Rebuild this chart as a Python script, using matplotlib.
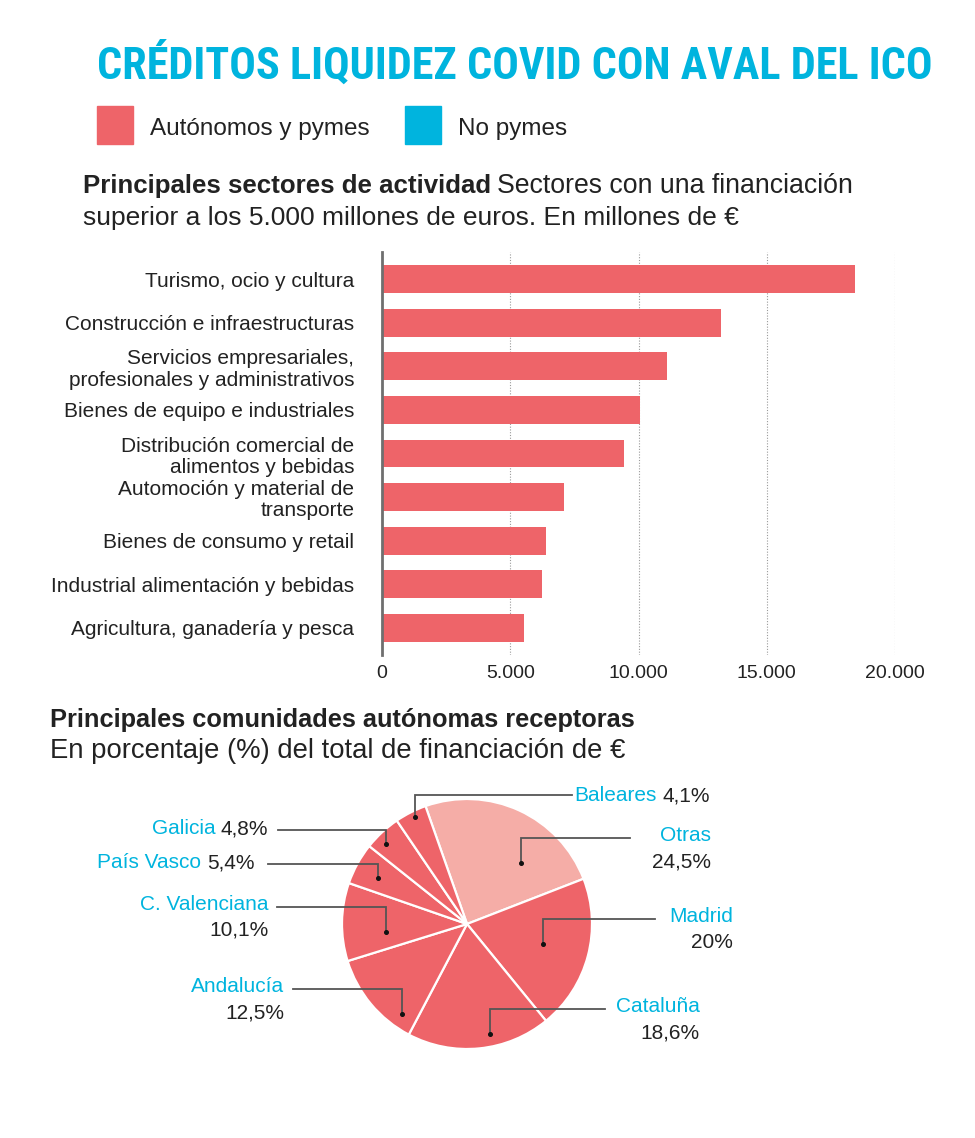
import numpy as np
import matplotlib
matplotlib.use('Agg')
import matplotlib.pyplot as plt

# Datos
sectores = ['Turismo, ocio y cultura',
            'Construcción e infraestructuras',
            'Servicios empresariales,\nprofesionales y administrativos',
            'Bienes de equipo e industriales',
            'Distribución comercial de\nalimentos y bebidas',
            'Automoción y material de\ntransporte',
            'Bienes de consumo y retail',
            'Industrial alimentación y bebidas',
            'Agricultura, ganadería y pesca']
importes = [18450, 13200, 11100, 10070, 9430, 7080, 6410, 6240, 5540]
ticks_x = [0, 5000, 10000, 15000, 20000]
ticks_txt = ['0', '5.000', '10.000', '15.000', '20.000']

comunidades = ['Otras', 'Madrid', 'Cataluña', 'Andalucía', 'C. Valenciana',
               'País Vasco', 'Galicia', 'Baleares']
porcentajes = [24.5, 20, 18.6, 12.5, 10.1, 5.4, 4.8, 4.1]

# Colores
ROJO = '#EE6469'
ROSA = '#F5ADA7'
CIAN = '#00B4DE'
TEXTO = '#222222'

plt.rcParams['font.family'] = ['Liberation Sans', 'DejaVu Sans']

W, H = 975, 1138
fig = plt.figure(figsize=(W / 100, H / 100), dpi=100)
renderer = fig.canvas.get_renderer()


def px(x, y):
    # pixeles -> fraccion de figura
    return x / W, 1 - y / H


# Titulo (ajustado al ancho 97..932 px)
titulo = fig.text(*px(97, 79), 'CRÉDITOS LIQUIDEZ COVID CON AVAL DEL ICO',
                  color=CIAN, fontsize=29, fontweight='bold',
                  family=['Roboto Condensed', 'Liberation Sans Narrow', 'Roboto', 'DejaVu Sans'],
                  ha='left', va='baseline')
ancho = titulo.get_window_extent(renderer).width
titulo.set_fontsize(29 * 835 / ancho)

# Leyenda
for x0, col, txt in [(97, ROJO, 'Autónomos y pymes'), (405, CIAN, 'No pymes')]:
    fig.patches.append(plt.Rectangle(px(x0, 144), 36 / W, 38 / H, color=col,
                                     transform=fig.transFigure, figure=fig))
    fig.text(*px(x0 + 53, 135), txt, color=TEXTO, fontsize=17.5, va='baseline')

# Subtitulo barras
t1 = fig.text(*px(83, 193), 'Principales sectores de actividad', fontsize=18.6,
              fontweight='bold', color=TEXTO, va='baseline')
bb = t1.get_window_extent(renderer)
fig.text(bb.x1 / W + 6 / W, 1 - 193 / H, 'Sectores con una financiación',
         fontsize=19.2, color=TEXTO, va='baseline')
fig.text(*px(83, 225), 'superior a los 5.000 millones de euros. En millones de €',
         fontsize=19.0, color=TEXTO, va='baseline')

# Grafico de barras
ax = fig.add_axes([382 / W, 1 - 655 / H, 513 / W, 403 / H])
y = np.arange(len(sectores))
ax.barh(y, importes, height=0.64, color=ROJO, zorder=3)
ax.set_ylim(len(sectores) - 1 + 0.62, -0.62)
ax.set_xlim(0, 20000)
ax.set_xticks(ticks_x)
ax.set_xticklabels(ticks_txt, fontsize=14, color=TEXTO)
ax.set_yticks(y)
ax.set_yticklabels(sectores, fontsize=15, color=TEXTO, linespacing=1.15)
ax.tick_params(axis='both', length=0)
ax.tick_params(axis='y', pad=20)
ax.tick_params(axis='x', pad=7)
for s in ['top', 'right', 'bottom']:
    ax.spines[s].set_visible(False)
ax.spines['left'].set_color('#6f6f6f')
ax.spines['left'].set_linewidth(2)
ax.spines['left'].set_zorder(4)
for xv in ticks_x[1:]:
    ax.axvline(xv, color='#9a9a9a', lw=0.8, ls=(0, (1, 1.5)), zorder=1)

# Subtitulo tarta
fig.text(*px(50, 727), 'Principales comunidades autónomas receptoras', fontsize=18.3,
         fontweight='bold', color=TEXTO, va='baseline')
fig.text(*px(50, 758), 'En porcentaje (%) del total de financiación de €',
         fontsize=19.8, color=TEXTO, va='baseline')

# Tarta: centro (467, 924) px, radio 125 px
cx, cy, R = 467, 924, 125
top, bot = 770, 1080
ax2 = fig.add_axes([0, 1 - bot / H, 1, (bot - top) / H])
colores = [ROSA] + [ROJO] * (len(porcentajes) - 1)
ax2.pie(porcentajes, colors=colores, startangle=109.4, counterclock=False,
        wedgeprops=dict(edgecolor='white', linewidth=1.6))
ax2.set_aspect('auto')
ax2.set_xlim((0 - cx) / R, (W - cx) / R)
ax2.set_ylim((cy - bot) / R, (cy - top) / R)
ax2.axis('off')

# Posiciones de etiquetas (unidades de radio)
lab_x = [1.95, 2.13, 1.86, -1.46, -1.59, -1.70, -1.59, 0.86]
lab_y = [0.69, 0.04, -0.68, -0.52, 0.14, 0.48, 0.75, 1.03]
linea_x = [1.30, 1.50, 1.10, -1.39, -1.52, -1.59, -1.51, 0.84]
punto = [(0.43, 0.49), (0.61, -0.16), (0.18, -0.88), (-0.52, -0.72),
         (-0.65, -0.06), (-0.71, 0.37), (-0.65, 0.64), (-0.42, 0.86)]
dos_lineas = [True, True, True, True, True, False, False, False]

for i, nombre in enumerate(comunidades):
    val = f'{porcentajes[i]:g}'.replace('.', ',') + '%'
    px_, py_ = punto[i]
    ax2.plot([linea_x[i], px_, px_], [lab_y[i], lab_y[i], py_],
             color='#555555', lw=1.3, solid_joinstyle='miter', zorder=5)
    ax2.plot(px_, py_, 'o', color='#111111', ms=2.6, zorder=6)
    if dos_lineas[i]:
        ax2.text(lab_x[i], lab_y[i] + 0.02, nombre, color=CIAN, fontsize=15,
                 ha='right', va='center')
        ax2.text(lab_x[i], lab_y[i] - 0.19, val, color=TEXTO, fontsize=15,
                 ha='right', va='center')
    elif i == len(comunidades) - 1:
        tn = ax2.text(lab_x[i], lab_y[i] - 0.005, nombre, color=CIAN, fontsize=15,
                      ha='left', va='center')
        ax2.annotate(val, xy=(1, 0.5), xycoords=tn, xytext=(4, 0),
                     textcoords='offset points', color=TEXTO, fontsize=15,
                     ha='left', va='center')
    else:
        tv = ax2.text(lab_x[i], lab_y[i] + 0.01, val, color=TEXTO, fontsize=15,
                      ha='right', va='center')
        ax2.annotate(nombre, xy=(0, 0.5), xycoords=tv, xytext=(-4, 0),
                     textcoords='offset points', color=CIAN, fontsize=15,
                     ha='right', va='center')

fig.savefig('out.png', dpi=100, facecolor='white')
